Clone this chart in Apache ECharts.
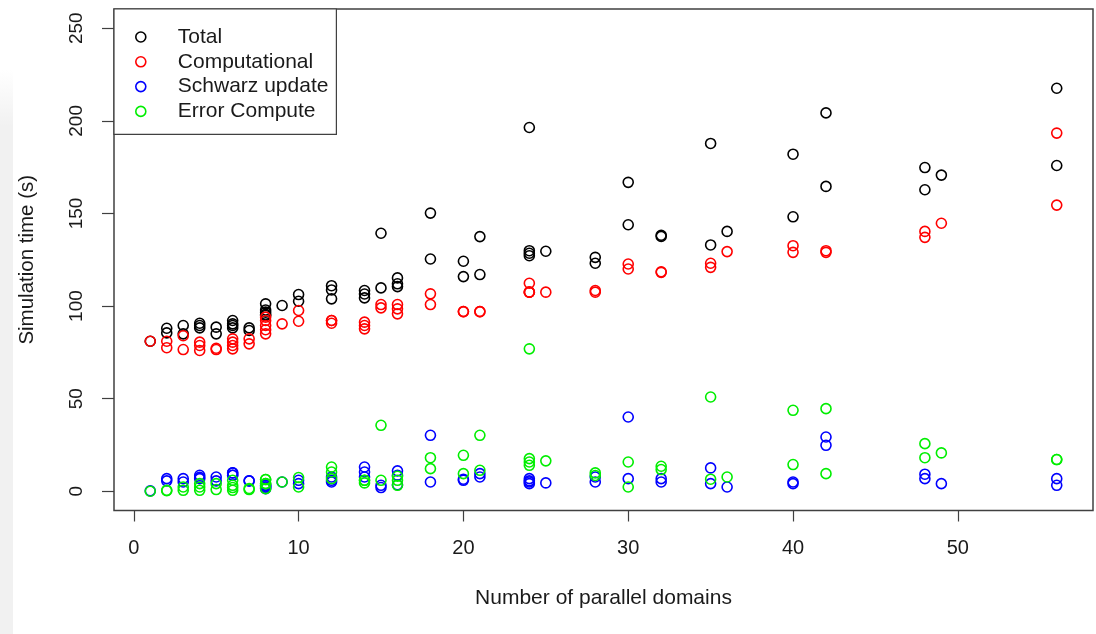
<!DOCTYPE html>
<html>
<head>
<meta charset="utf-8">
<title>Simulation time vs parallel domains</title>
<script src="https://cdn.jsdelivr.net/npm/echarts@6/dist/echarts.min.js"></script>
<style>
  html, body { margin: 0; padding: 0; background: #ffffff; }
  #chart { width: 1096px; height: 634px; }
</style>
</head>
<body>
<div id="chart"></div>
<script>
// One entry per run: number of parallel domains and the timings (seconds)
const domains = [1, 2, 2, 3, 3, 4, 4, 4, 5, 5, 6, 6, 6, 6, 7, 7, 8, 8, 8, 8, 8, 9, 10, 10,
  12, 12, 12, 14, 14, 14, 15, 15, 16, 16, 16, 18, 18, 20, 20, 21, 21, 24, 24, 24, 24, 25,
  28, 28, 30, 30, 32, 32, 35, 35, 36, 40, 40, 42, 42, 48, 48, 49, 56, 56];

const total = [81, 88, 85.5, 89.5, 85, 90.7, 89.5, 88.2, 88.6, 85, 92.2, 90.4, 89.5, 88.2,
  88.2, 86.8, 101.2, 97.9, 96.7, 94.9, 95.5, 100.3, 106.2, 102.6, 111, 108.7, 103.9,
  108.4, 106.5, 104.4, 139.3, 109.8, 115.2, 112, 110.5, 150.2, 125.4, 124.2, 115.9,
  137.5, 117, 196.4, 129.9, 128.5, 127.2, 129.6, 126.3, 123.1, 166.8, 143.9, 138.2, 137.6,
  187.8, 133, 140.3, 182, 148.2, 204.3, 164.6, 174.8, 162.8, 170.7, 217.6, 175.9];

const computational = [81, 81, 77.5, 84, 76.5, 80.5, 78.7, 76, 77.2, 76.5, 82.3, 80.5, 78.7,
  76.9, 82.3, 79.6, 94, 92.2, 89.5, 87.2, 85, 90.4, 97.6, 91.8, 92.2, 92.2, 90.7, 91.3,
  89.5, 87.7, 100.8, 99, 100.8, 98.5, 95.8, 100.8, 106.6, 97, 97, 97, 97, 112.3, 107.5,
  107.5, 107.5, 107.5, 108.4, 107.5, 122.7, 120, 118.2, 118.5, 123.1, 120.9, 129.4, 132.6,
  129, 129.9, 129, 140.3, 137.1, 144.7, 193.4, 154.5];

const schwarzUpdate = [0.2, 6.8, 5.6, 6.8, 5, 8.6, 7.5, 6.8, 7.7, 5.6, 9.9, 8.6, 8.6, 9.9,
  5.6, 5.6, 3.2, 2.3, 1.4, 3.2, 2.3, 5.0, 5.9, 4.1, 7.7, 5.0, 5.9, 13.1, 10.4, 7.7, 3.2,
  2.0, 11, 8.6, 3.5, 30.2, 5.0, 5.9, 6.5, 9.5, 7.7, 6.8, 5.6, 4.1, 5.0, 4.5, 7.7, 5.0,
  40.1, 6.8, 6.8, 5.0, 12.6, 4.1, 2.3, 5.0, 4.1, 29.3, 24.8, 9.2, 6.8, 4.1, 6.8, 3.2];

const errorCompute = [0, 0.3, 0.5, 0.5, 2.3, 0.5, 2.3, 4.1, 4.1, 0.9, 0.5, 3.2, 5.9, 2.0,
  0.9, 1.5, 4.1, 6.3, 4.1, 1.4, 6.3, 5.0, 2.3, 7.4, 13.1, 10.4, 6.8, 4.5, 5.9, 5.9, 35.6,
  5.9, 3.2, 5.9, 8.1, 18.1, 12.2, 19.4, 9.5, 30.2, 11.3, 76.9, 17.6, 15.8, 14.0, 16.4,
  9.9, 8.5, 2.3, 15.8, 13.5, 11.7, 50.9, 6.5, 7.7, 43.7, 14.4, 44.6, 9.5, 25.7, 18.1,
  20.7, 17.1, 17.1];

const xTicks = [0, 10, 20, 30, 40, 50];
const yTicks = [0, 50, 100, 150, 200, 250];

const seriesNames = ['Total', 'Computational', 'Schwarz update', 'Error Compute'];
const seriesValues = [total, computational, schwarzUpdate, errorCompute];
const seriesColors = ['#000000', '#ff0000', '#0000ff', '#00ee00'];

const FONT = '"Liberation Sans", Arial, Helvetica, sans-serif';
const TEXT = '#1a1a1a';
const FRAME = '#404040';

const chart = echarts.init(document.getElementById('chart'), null, { renderer: 'canvas' });

const series = seriesNames.map((name, i) => ({
  name,
  type: 'scatter',
  symbol: 'circle',
  symbolSize: 10,
  itemStyle: {
    color: 'rgba(0,0,0,0)',
    borderColor: seriesColors[i],
    borderWidth: 1.6,
    opacity: 1
  },
  emphasis: { disabled: true },
  data: domains.map((d, k) => [d, seriesValues[i][k]])
}));

chart.setOption({
  animation: false,
  backgroundColor: '#ffffff',
  graphic: [{
    type: 'rect',
    left: 0,
    top: 70,
    silent: true,
    z: -10,
    shape: { width: 13, height: 564 },
    style: {
      fill: {
        type: 'linear', x: 0, y: 0, x2: 0, y2: 1,
        colorStops: [
          { offset: 0, color: '#ffffff' },
          { offset: 0.1, color: '#f1f1f1' },
          { offset: 1, color: '#f1f1f1' }
        ]
      }
    }
  }],
  grid: {
    left: 114,
    right: 3,
    top: 9,
    bottom: 123.5,
    show: true,
    borderColor: FRAME,
    borderWidth: 1.5,
    backgroundColor: 'transparent'
  },
  legend: {
    orient: 'vertical',
    left: 114,
    top: 9,
    padding: [17.5, 8, 12.5, 21],
    itemGap: 3.8,
    itemWidth: 10,
    itemHeight: 10,
    backgroundColor: '#ffffff',
    borderColor: FRAME,
    borderWidth: 1.2,
    borderRadius: 0,
    selectedMode: false,
    textStyle: {
      fontFamily: FONT,
      fontSize: 21,
      color: TEXT,
      lineHeight: 21,
      padding: [0, 0, 0, 27]
    },
    data: seriesNames.map((name, i) => ({
      name,
      icon: 'circle',
      itemStyle: {
        color: 'rgba(0,0,0,0)',
        borderColor: seriesColors[i],
        borderWidth: 1.6
      }
    }))
  },
  xAxis: {
    type: 'value',
    min: -1.2,
    max: 58.2,
    name: 'Number of parallel domains',
    nameLocation: 'middle',
    nameGap: 77,
    nameTextStyle: { fontFamily: FONT, fontSize: 21, color: TEXT },
    splitLine: { show: false },
    axisLine: { show: false, onZero: false },
    axisTick: {
      show: true,
      inside: false,
      length: 11,
      customValues: xTicks,
      lineStyle: { color: FRAME, width: 1.2 }
    },
    axisLabel: {
      show: true,
      customValues: xTicks,
      margin: 28,
      fontFamily: FONT,
      fontSize: 20,
      color: TEXT
    }
  },
  yAxis: {
    type: 'value',
    min: -10.4,
    max: 260.4,
    name: 'Simulation time (s)',
    nameLocation: 'middle',
    nameGap: 76,
    nameRotate: 90,
    nameTextStyle: { fontFamily: FONT, fontSize: 20.5, color: TEXT },
    splitLine: { show: false },
    axisLine: { show: false, onZero: false },
    axisTick: {
      show: true,
      inside: false,
      length: 12,
      customValues: yTicks,
      lineStyle: { color: FRAME, width: 1.2 }
    },
    axisLabel: {
      show: true,
      customValues: yTicks,
      rotate: 90,
      margin: 28,
      fontFamily: FONT,
      fontSize: 19,
      color: TEXT
    }
  },
  series
});
</script>
</body>
</html>
